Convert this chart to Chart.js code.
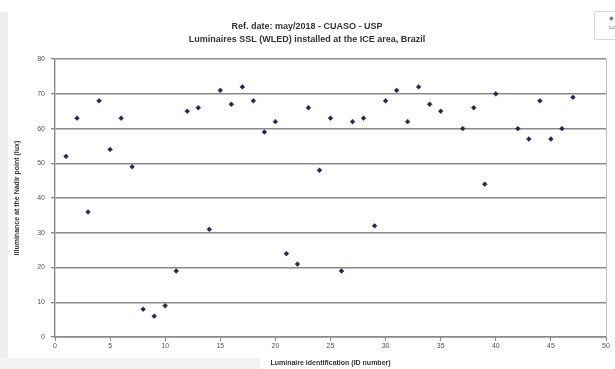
<!DOCTYPE html>
<html>
<head>
<meta charset="utf-8">
<script src="https://cdn.jsdelivr.net/npm/chart.js@4"></script>
<style>
  html, body { margin: 0; padding: 0; background: #fff; }
  #wrap { position: relative; width: 615px; height: 369px; overflow: hidden; }
  #strip { position: absolute; left: 0; top: 12px; width: 8px; height: 357px; background: #efefef; }
  #strip2 { position: absolute; left: 0; top: 358px; width: 260px; height: 11px; background: #f3f3f3; }
  #leg { position: absolute; left: 594px; top: 11px; width: 40px; height: 29px; border: 1px solid #d8d8d8;
         font: 6px "Liberation Sans", Arial, sans-serif; color: #777; line-height: 9px; padding: 2px 0 0 14px; box-sizing: border-box; }
  canvas { position: absolute; left: 0; top: 0; }
</style>
</head>
<body>
<div id="wrap">
  <div id="strip"></div>
  <div id="strip2"></div>
  <div id="leg">&#9670;<br>Lux</div>
  <canvas id="myChart1" width="615" height="369"></canvas>
</div>
<script>
const ids = [1, 2, 3, 4, 5, 6, 7, 8, 9, 10, 11, 12, 13, 14, 15, 16, 17, 18, 19, 20,
    21, 22, 23, 24, 25, 26, 27, 28, 29, 30, 31, 32, 33, 34, 35,
    37, 38, 39, 40, 42, 43, 44, 45, 46, 47];
const lux = [52, 63, 36, 68, 54, 63, 49, 8, 6, 9, 19, 65, 66, 31, 71, 67, 72, 68, 59, 62,
    24, 21, 66, 48, 63, 19, 62, 63, 32, 68, 71, 62, 72, 67, 65,
    60, 66, 44, 70, 60, 57, 68, 57, 60, 69];
const titleLines = ["Ref. date: may/2018 - CUASO - USP", "Luminaires SSL (WLED) installed at the ICE area, Brazil"];
const xTitle = "Luminaire identification (ID number)";
const yTitle = "Illuminance at the Nadir point (lux)";

const font = "'Liberation Sans', Arial, sans-serif";
const ctx1 = document.getElementById("myChart1");

// thin frame on the right side of the plot
const frame = {
    id: "frame",
    afterDraw(chart) {
        const a = chart.chartArea;
        const c = chart.ctx;
        c.save();
        c.strokeStyle = "#bdbdbd";
        c.lineWidth = 1;
        c.beginPath();
        c.moveTo(a.right + 0.5, a.top);
        c.lineTo(a.right + 0.5, a.bottom);
        c.stroke();
        c.restore();
    },
};

new Chart(ctx1, {
    type: "scatter",
    data: {
        datasets: [
            {
                label: "Lux",
                data: ids.map((id, i) => ({ x: id, y: lux[i] })),
                pointStyle: "rectRot",
                pointRadius: 2.4,
                backgroundColor: "#23235a",
                borderColor: "#23235a",
                borderWidth: 0.5,
            },
        ],
    },
    options: {
        responsive: false,
        animation: false,
        layout: { padding: { left: 8, right: 9, top: 0, bottom: 0 } },
        plugins: {
            legend: { display: false },
            tooltip: { enabled: false },
            title: {
                display: true,
                text: titleLines,
                color: "#333",
                font: { family: font, size: 9, weight: "bold", lineHeight: 1.45 },
                padding: { top: 20, bottom: 13 },
            },
        },
        scales: {
            x: {
                type: "linear",
                min: 0,
                max: 50,
                afterFit: (s) => { s.height = 32; },
                ticks: { stepSize: 5, color: "#555", padding: 1, font: { family: font, size: 7 } },
                grid: { drawOnChartArea: false, drawTicks: true, tickLength: 4, color: "#8a8a8a" },
                border: { color: "#8a8a8a", width: 1.4 },
                title: {
                    display: true,
                    text: xTitle,
                    color: "#333",
                    font: { family: font, size: 7, weight: "bold" },
                    padding: { top: 2, bottom: 2 },
                },
            },
            y: {
                min: 0,
                max: 80,
                afterFit: (s) => { s.width = 47; },
                ticks: { stepSize: 10, color: "#555", padding: 6, font: { family: font, size: 7 } },
                grid: { color: "#8a8a8a", lineWidth: 1.4, tickLength: 4 },
                border: { color: "#8a8a8a", width: 1.4 },
                title: {
                    display: true,
                    text: yTitle,
                    color: "#333",
                    font: { family: font, size: 7, weight: "bold" },
                    padding: { top: 5, bottom: 0 },
                },
            },
        },
    },
    plugins: [frame],
});
</script>
</body>
</html>
